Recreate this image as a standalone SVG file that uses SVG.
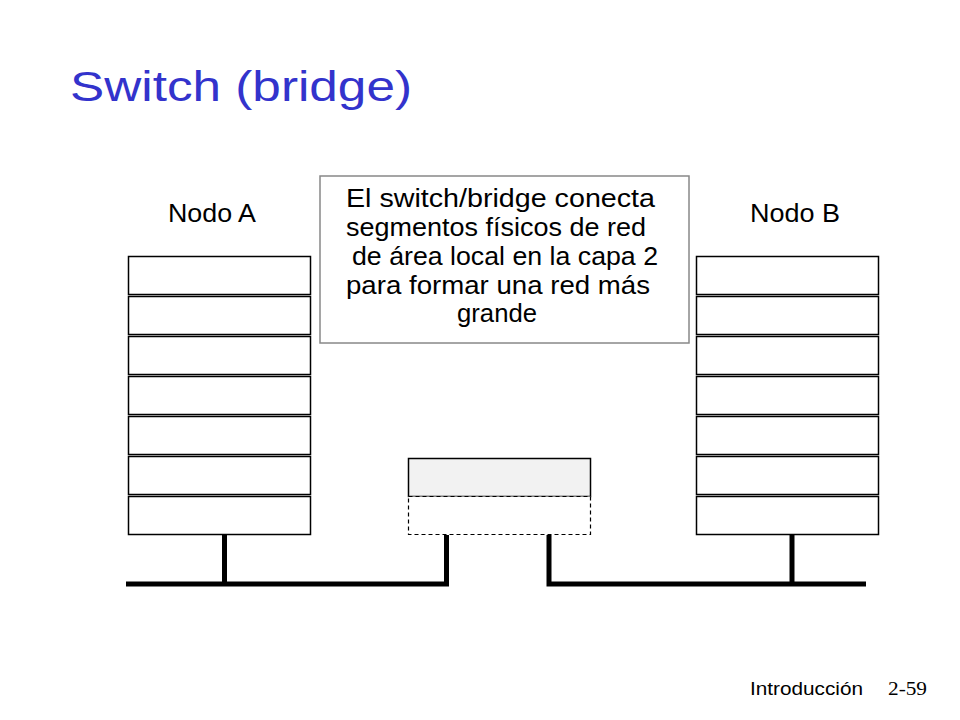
<svg xmlns="http://www.w3.org/2000/svg" width="960" height="720" viewBox="0 0 960 720">
<style>
.layer{fill:#ffffff;stroke:#000000;stroke-width:1.5}
.txt{font-family:"Liberation Sans","DejaVu Sans",sans-serif;fill:#000000}
.wire{stroke:#000000;stroke-width:5;fill:none;stroke-linecap:butt;stroke-linejoin:miter}
</style>
<rect x="0" y="0" width="960" height="720" fill="#ffffff"/>
<text id="title" x="70" y="101" font-family="Liberation Sans, DejaVu Sans, sans-serif" font-size="42" fill="#3333cc" textLength="342" lengthAdjust="spacingAndGlyphs">Switch (bridge)</text>

<g id="nodeA">
<text class="txt" x="168" y="222" font-size="26" textLength="88" lengthAdjust="spacingAndGlyphs">Nodo A</text>
<rect class="layer" x="128.5" y="256.5" width="182" height="38"/>
<rect class="layer" x="128.5" y="296.5" width="182" height="38"/>
<rect class="layer" x="128.5" y="336.5" width="182" height="38"/>
<rect class="layer" x="128.5" y="376.5" width="182" height="38"/>
<rect class="layer" x="128.5" y="416.5" width="182" height="38"/>
<rect class="layer" x="128.5" y="456.5" width="182" height="38"/>
<rect class="layer" x="128.5" y="496.5" width="182" height="38"/>
</g>

<g id="nodeB">
<text class="txt" x="750" y="222" font-size="26" textLength="90" lengthAdjust="spacingAndGlyphs">Nodo B</text>
<rect class="layer" x="696.5" y="256.5" width="182" height="38"/>
<rect class="layer" x="696.5" y="296.5" width="182" height="38"/>
<rect class="layer" x="696.5" y="336.5" width="182" height="38"/>
<rect class="layer" x="696.5" y="376.5" width="182" height="38"/>
<rect class="layer" x="696.5" y="416.5" width="182" height="38"/>
<rect class="layer" x="696.5" y="456.5" width="182" height="38"/>
<rect class="layer" x="696.5" y="496.5" width="182" height="38"/>
</g>

<g id="switch">
<rect x="408.5" y="458.5" width="182" height="38" fill="#f2f2f2" stroke="#000000" stroke-width="1.5"/>
<rect x="408.5" y="496.5" width="182" height="38" fill="#ffffff" stroke="#000000" stroke-width="1.2" stroke-dasharray="4,3"/>
</g>

<g id="note">
<rect x="320" y="176" width="369" height="167" fill="#ffffff" stroke="#888888" stroke-width="1.5"/>
<text class="txt" x="346" y="207" font-size="25" textLength="309" lengthAdjust="spacingAndGlyphs">El switch/bridge conecta</text>
<text class="txt" x="346" y="236" font-size="25" textLength="300" lengthAdjust="spacingAndGlyphs">segmentos físicos de red</text>
<text class="txt" x="352" y="265" font-size="25" textLength="306" lengthAdjust="spacingAndGlyphs">de área local en la capa 2</text>
<text class="txt" x="346" y="294" font-size="25" textLength="304" lengthAdjust="spacingAndGlyphs">para formar una red más</text>
<text class="txt" x="457" y="322" font-size="25" textLength="80" lengthAdjust="spacingAndGlyphs">grande</text>
</g>

<g id="connectors">
<polyline class="wire" points="126,584 446.5,584 446.5,535"/>
<line class="wire" x1="224.5" y1="535" x2="224.5" y2="584"/>
<polyline class="wire" points="549,535 549,584 866,584"/>
<line class="wire" x1="792" y1="535" x2="792" y2="584"/>
</g>

<g id="footer">
<text class="txt" x="750" y="695" font-size="18" textLength="113" lengthAdjust="spacingAndGlyphs">Introducción</text>
<text x="888" y="695" font-family="Liberation Serif, serif" font-size="18" fill="#000000" textLength="39" lengthAdjust="spacingAndGlyphs">2-59</text>
</g>
</svg>
